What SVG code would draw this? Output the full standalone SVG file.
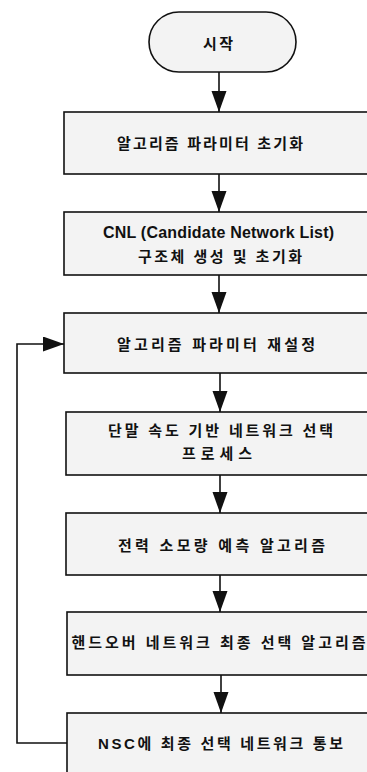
<svg xmlns="http://www.w3.org/2000/svg" width="367" height="772" viewBox="0 0 367 772">
<defs>
<style>
.box{fill:#f3f3f3;stroke:#111;stroke-width:1.6}
.t{font-family:"Liberation Sans","Noto Sans CJK KR",sans-serif;font-size:15px;font-weight:bold;fill:#111;text-anchor:middle}
.en{font-size:16px}
.c{fill:none;stroke:#111;stroke-width:1.6}
</style>
<marker id="ah" markerUnits="userSpaceOnUse" markerWidth="22" markerHeight="16" refX="21" refY="7.5" orient="auto">
<path d="M0,0 L21,7.5 L0,15 Z" fill="#111"/>
</marker>
</defs>
<rect width="367" height="772" fill="#fff"/>
<g id="start">
<rect class="box" x="149" y="12" width="147" height="60" rx="30" ry="30"/>
<text class="t" x="218" y="48.5" textLength="30" lengthAdjust="spacing">시작</text>
</g>
<g id="n1">
<rect class="box" x="64" y="112" width="310" height="62"/>
<text class="t" x="210" y="148.5" textLength="186" lengthAdjust="spacing">알고리즘 파라미터 초기화</text>
</g>
<g id="n2">
<rect class="box" x="64" y="212" width="310" height="63"/>
<text class="t en" x="218.5" y="238" textLength="231" lengthAdjust="spacing">CNL (Candidate Network List)</text>
<text class="t" x="220" y="261.5" textLength="164" lengthAdjust="spacing">구조체 생성 및 초기화</text>
</g>
<g id="n3">
<rect class="box" x="64" y="313" width="310" height="60"/>
<text class="t" x="216" y="349.5" textLength="198" lengthAdjust="spacing">알고리즘 파라미터 재설정</text>
</g>
<g id="n4">
<rect class="box" x="66" y="412" width="310" height="63"/>
<text class="t" x="220.5" y="435.5" textLength="225" lengthAdjust="spacing">단말 속도 기반 네트워크 선택</text>
<text class="t" x="217" y="458.5" textLength="70" lengthAdjust="spacing">프로세스</text>
</g>
<g id="n5">
<rect class="box" x="66" y="513" width="310" height="62"/>
<text class="t" x="221.5" y="550.5" textLength="207" lengthAdjust="spacing">전력 소모량 예측 알고리즘</text>
</g>
<g id="n6">
<rect class="box" x="67" y="612" width="310" height="63"/>
<text class="t" x="218.5" y="647.5" textLength="294" lengthAdjust="spacing">핸드오버 네트워크 최종 선택 알고리즘</text>
</g>
<g id="n7">
<rect class="box" x="67" y="713" width="310" height="64"/>
<text class="t" x="220.5" y="748.5" textLength="245" lengthAdjust="spacing">NSC에 최종 선택 네트워크 통보</text>
</g>
<g id="connectors">
<path class="c" d="M219,72 V112" marker-end="url(#ah)"/>
<path class="c" d="M219,174 V212" marker-end="url(#ah)"/>
<path class="c" d="M219,275 V313" marker-end="url(#ah)"/>
<path class="c" d="M220,373 V412" marker-end="url(#ah)"/>
<path class="c" d="M220,475 V513" marker-end="url(#ah)"/>
<path class="c" d="M220,575 V612" marker-end="url(#ah)"/>
<path class="c" d="M221,675 V713" marker-end="url(#ah)"/>
<path class="c" d="M67,743 H17 V344 H64" marker-end="url(#ah)"/>
</g>
</svg>
